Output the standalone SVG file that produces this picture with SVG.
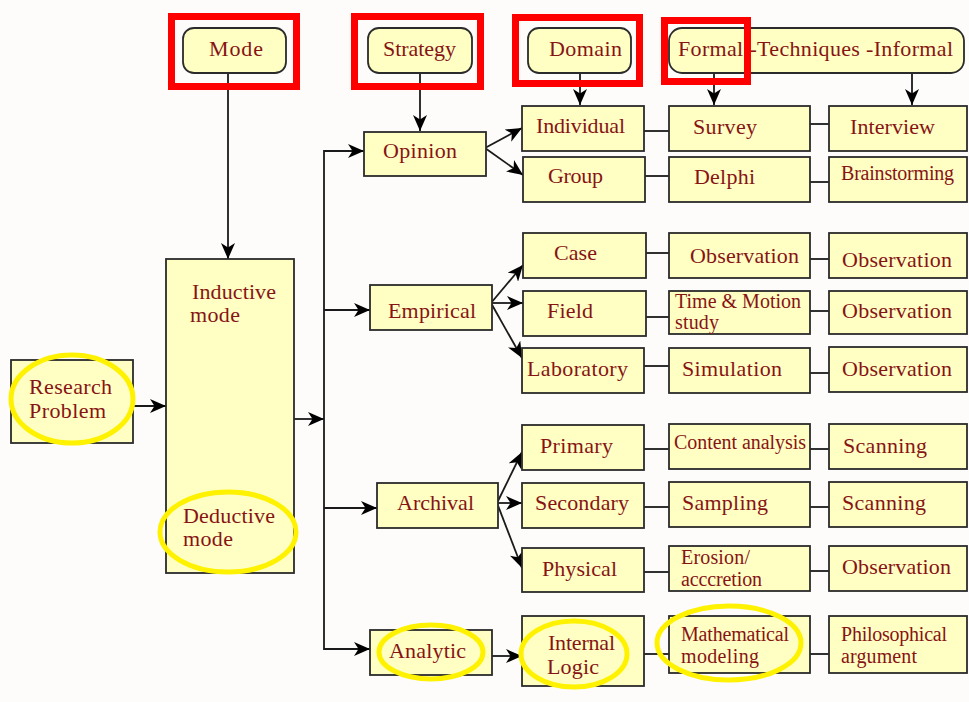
<svg xmlns="http://www.w3.org/2000/svg" width="969" height="702" viewBox="0 0 969 702">
<style>
.bg{fill:#FDFCFA}
.box{fill:#FFFFC4;stroke:#2b2b2b;stroke-width:1.8}
.t{font-family:"Liberation Serif","Times New Roman",serif;font-size:22px;fill:#871414}
.s{font-size:20px}
.c{fill:none;stroke:#1a1a1a;stroke-width:1.8}
.red{fill:none;stroke:#FF0000;stroke-width:7}
.yel{fill:none;stroke:#FFF200;stroke-width:5}
</style>
<defs>
<marker id="ah" viewBox="0 0 16 14" refX="16" refY="7" markerWidth="16" markerHeight="14" markerUnits="userSpaceOnUse" orient="auto-start-reverse">
<path d="M0,0 L16,7 L0,14 L4.5,7 z" fill="#000"/>
</marker>
</defs>
<rect class="bg" x="0" y="0" width="969" height="702"/>

<g id="connectors">
<line class="c" x1="228" y1="73" x2="228" y2="259" marker-end="url(#ah)"/>
<line class="c" x1="420" y1="73" x2="420" y2="131" marker-end="url(#ah)"/>
<line class="c" x1="580" y1="73" x2="580" y2="105" marker-end="url(#ah)"/>
<line class="c" x1="714" y1="73" x2="714" y2="105" marker-end="url(#ah)"/>
<line class="c" x1="912" y1="73" x2="912" y2="105" marker-end="url(#ah)"/>
<line class="c" x1="133" y1="406" x2="166" y2="406" marker-end="url(#ah)"/>
<line class="c" x1="222" y1="337" x2="222" y2="488" marker-start="url(#ah)" marker-end="url(#ah)"/>
<line class="c" x1="294" y1="419" x2="324" y2="419" marker-end="url(#ah)"/>
<polyline class="c" points="364,151 324,151 324,649 370,649"/>
<line class="c" x1="324" y1="151" x2="364" y2="151" marker-end="url(#ah)"/>
<line class="c" x1="324" y1="310" x2="370" y2="310" marker-end="url(#ah)"/>
<line class="c" x1="324" y1="508" x2="377" y2="508" marker-end="url(#ah)"/>
<line class="c" x1="324" y1="649" x2="370" y2="649" marker-end="url(#ah)"/>
<line class="c" x1="485" y1="148" x2="522" y2="128" marker-end="url(#ah)"/>
<line class="c" x1="485" y1="148" x2="523" y2="175" marker-end="url(#ah)"/>
<line class="c" x1="491" y1="303" x2="523" y2="265" marker-end="url(#ah)"/>
<line class="c" x1="491" y1="303" x2="523" y2="303" marker-end="url(#ah)"/>
<line class="c" x1="491" y1="303" x2="522" y2="358" marker-end="url(#ah)"/>
<line class="c" x1="497" y1="503" x2="522" y2="452" marker-end="url(#ah)"/>
<line class="c" x1="497" y1="503" x2="522" y2="503" marker-end="url(#ah)"/>
<line class="c" x1="497" y1="503" x2="522" y2="568" marker-end="url(#ah)"/>
<line class="c" x1="491" y1="656" x2="522" y2="656" marker-end="url(#ah)"/>
<line class="c" x1="644" y1="131" x2="669" y2="131"/>
<line class="c" x1="810" y1="124" x2="829" y2="124"/>
<line class="c" x1="645" y1="176" x2="669" y2="176"/>
<line class="c" x1="810" y1="182" x2="829" y2="182"/>
<line class="c" x1="646" y1="253" x2="669" y2="253"/>
<line class="c" x1="810" y1="259" x2="829" y2="259"/>
<line class="c" x1="646" y1="317" x2="669" y2="317"/>
<line class="c" x1="810" y1="311" x2="829" y2="311"/>
<line class="c" x1="644" y1="366" x2="669" y2="366"/>
<line class="c" x1="810" y1="373" x2="829" y2="373"/>
<line class="c" x1="644" y1="449" x2="669" y2="449"/>
<line class="c" x1="810" y1="449" x2="829" y2="449"/>
<line class="c" x1="644" y1="507" x2="669" y2="507"/>
<line class="c" x1="810" y1="507" x2="829" y2="507"/>
<line class="c" x1="644" y1="572" x2="669" y2="572"/>
<line class="c" x1="810" y1="571" x2="829" y2="571"/>
<line class="c" x1="644" y1="654" x2="669" y2="654"/>
<line class="c" x1="810" y1="654" x2="829" y2="654"/>
</g>

<g id="mode-header"><rect class="box" x="183" y="28" width="103" height="45" rx="11"/><text class="t" x="209" y="56" textLength="54">Mode</text></g>
<g id="strategy-header"><rect class="box" x="368" y="28" width="104" height="45" rx="11"/><text class="t" x="383" y="56" textLength="73">Strategy</text></g>
<g id="domain-header"><rect class="box" x="528" y="28" width="103" height="45" rx="11"/><text class="t" x="549" y="56" textLength="73">Domain</text></g>
<g id="techniques-header"><rect class="box" x="669" y="28" width="295" height="45" rx="13"/><text class="t" x="678" y="56" textLength="275">Formal -Techniques -Informal</text></g>

<g id="research-problem"><rect class="box" x="11" y="360" width="122" height="83"/><text class="t" x="29" y="394" textLength="83">Research</text><text class="t" x="29" y="418" textLength="77">Problem</text></g>
<g id="mode-box"><rect class="box" x="166" y="259" width="128" height="314"/><text class="t" x="192" y="299" textLength="84">Inductive</text><text class="t" x="190" y="322" textLength="50">mode</text><text class="t" x="183" y="523" textLength="92">Deductive</text><text class="t" x="183" y="546" textLength="50">mode</text></g>

<g id="opinion"><rect class="box" x="364" y="132" width="122" height="44"/><text class="t" x="383" y="158" textLength="74">Opinion</text></g>
<g id="empirical"><rect class="box" x="370" y="285" width="122" height="45"/><text class="t" x="388" y="318" textLength="88">Empirical</text></g>
<g id="archival"><rect class="box" x="377" y="483" width="121" height="45"/><text class="t" x="397" y="510" textLength="77">Archival</text></g>
<g id="analytic"><rect class="box" x="370" y="630" width="122" height="45"/><text class="t" x="389" y="658" textLength="77">Analytic</text></g>

<g id="individual"><rect class="box" x="522" y="106" width="122" height="45"/><text class="t" x="536" y="133" textLength="89">Individual</text></g>
<g id="group"><rect class="box" x="523" y="157" width="122" height="45"/><text class="t" x="548" y="183" textLength="55">Group</text></g>
<g id="case"><rect class="box" x="523" y="233" width="123" height="45"/><text class="t" x="554" y="260" textLength="43">Case</text></g>
<g id="field"><rect class="box" x="523" y="291" width="123" height="45"/><text class="t" x="547" y="318" textLength="46">Field</text></g>
<g id="laboratory"><rect class="box" x="522" y="348" width="122" height="45"/><text class="t" x="527" y="376" textLength="101">Laboratory</text></g>
<g id="primary"><rect class="box" x="522" y="425" width="122" height="45"/><text class="t" x="540" y="453" textLength="73">Primary</text></g>
<g id="secondary"><rect class="box" x="522" y="483" width="122" height="45"/><text class="t" x="535" y="510" textLength="94">Secondary</text></g>
<g id="physical"><rect class="box" x="522" y="548" width="122" height="44"/><text class="t" x="542" y="576" textLength="75">Physical</text></g>
<g id="internal-logic"><rect class="box" x="522" y="616" width="122" height="70"/><text class="t" x="548" y="650" textLength="67">Internal</text><text class="t" x="547" y="674" textLength="52">Logic</text></g>

<g id="survey"><rect class="box" x="669" y="106" width="141" height="45"/><text class="t" x="693" y="134" textLength="64">Survey</text></g>
<g id="delphi"><rect class="box" x="669" y="157" width="141" height="45"/><text class="t" x="694" y="184" textLength="61">Delphi</text></g>
<g id="observation-case"><rect class="box" x="669" y="233" width="141" height="45"/><text class="t" x="690" y="263" textLength="109">Observation</text></g>
<g id="time-motion"><rect class="box" x="669" y="291" width="141" height="43"/><text class="t s" x="675" y="308" textLength="126">Time &amp; Motion</text><text class="t s" x="675" y="329" textLength="44">study</text></g>
<g id="simulation"><rect class="box" x="669" y="348" width="141" height="45"/><text class="t" x="682" y="376" textLength="100">Simulation</text></g>
<g id="content-analysis"><rect class="box" x="669" y="424" width="141" height="45"/><text class="t s" x="674" y="449" textLength="132">Content analysis</text></g>
<g id="sampling"><rect class="box" x="669" y="482" width="141" height="45"/><text class="t" x="682" y="510" textLength="86">Sampling</text></g>
<g id="erosion"><rect class="box" x="669" y="546" width="141" height="45"/><text class="t s" x="681" y="564" textLength="69">Erosion/</text><text class="t s" x="681" y="586" textLength="81">acccretion</text></g>
<g id="math-modeling"><rect class="box" x="669" y="616" width="141" height="57"/><text class="t s" x="681" y="641" textLength="108">Mathematical</text><text class="t s" x="681" y="663" textLength="78">modeling</text></g>

<g id="interview"><rect class="box" x="829" y="106" width="138" height="45"/><text class="t" x="850" y="134" textLength="85">Interview</text></g>
<g id="brainstorming"><rect class="box" x="829" y="157" width="138" height="45"/><text class="t s" x="841" y="180" textLength="113">Brainstorming</text></g>
<g id="observation-2"><rect class="box" x="829" y="233" width="138" height="45"/><text class="t" x="842" y="267" textLength="110">Observation</text></g>
<g id="observation-3"><rect class="box" x="829" y="291" width="138" height="43"/><text class="t" x="842" y="318" textLength="110">Observation</text></g>
<g id="observation-4"><rect class="box" x="829" y="347" width="138" height="45"/><text class="t" x="842" y="376" textLength="110">Observation</text></g>
<g id="scanning-1"><rect class="box" x="829" y="424" width="138" height="45"/><text class="t" x="843" y="453" textLength="84">Scanning</text></g>
<g id="scanning-2"><rect class="box" x="829" y="482" width="138" height="45"/><text class="t" x="842" y="510" textLength="84">Scanning</text></g>
<g id="observation-5"><rect class="box" x="829" y="546" width="138" height="45"/><text class="t" x="842" y="574" textLength="109">Observation</text></g>
<g id="philosophical"><rect class="box" x="829" y="616" width="138" height="57"/><text class="t s" x="841" y="641" textLength="106">Philosophical</text><text class="t s" x="841" y="663" textLength="76">argument</text></g>

<g id="annotations">
<rect class="red" x="171.5" y="16.5" width="125" height="70"/>
<rect class="red" x="354.5" y="16.5" width="126" height="70"/>
<rect class="red" x="515.5" y="17.5" width="124" height="66"/>
<rect class="red" x="664.5" y="20.5" width="83" height="61"/>
<ellipse class="yel" cx="72" cy="399" rx="61" ry="44"/>
<ellipse class="yel" cx="228" cy="532" rx="68" ry="40"/>
<ellipse class="yel" cx="431" cy="652" rx="52" ry="27"/>
<ellipse class="yel" cx="574" cy="654" rx="53" ry="33"/>
<ellipse class="yel" cx="729" cy="643" rx="72" ry="37"/>
</g>
</svg>
